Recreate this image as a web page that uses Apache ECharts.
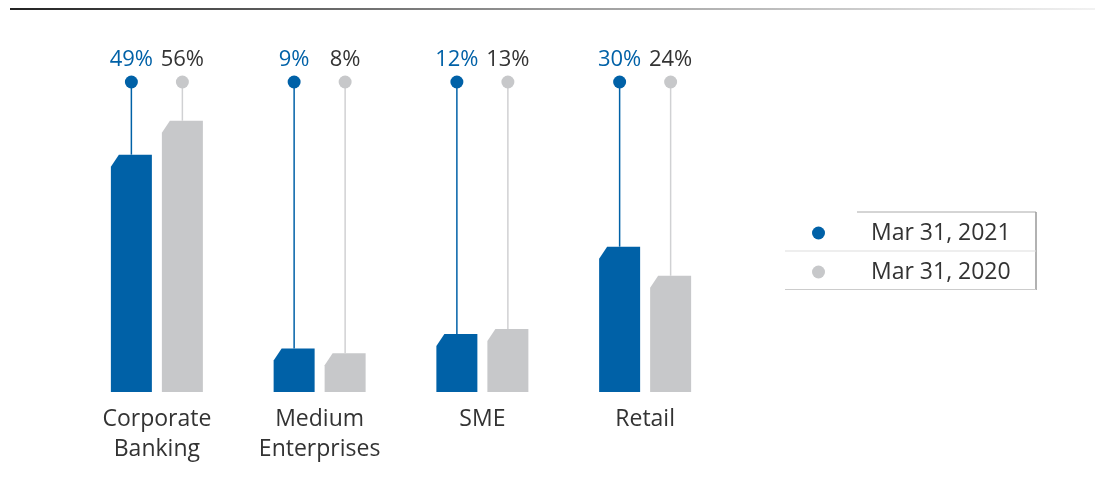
<!DOCTYPE html>
<html>
<head>
<meta charset="utf-8">
<script src="https://cdn.jsdelivr.net/npm/echarts@6/dist/echarts.min.js"></script>
<style>
  html, body { margin: 0; padding: 0; background: #fff; }
  #mychart { width: 1095px; height: 485px; }
</style>
</head>
<body>
<div id="mychart"></div>
<script>
// data
const categories = ['Corporate\nBanking', 'Medium\nEnterprises', 'SME', 'Retail'];
const share2021 = [49, 9, 12, 30];
const share2020 = [56, 8, 13, 24];
const seriesNames = ['Mar 31, 2021', 'Mar 31, 2020'];
const PIN = 64; // level of the dots above the bars

const BLUE = '#0061a7';
const GREY = '#c7c8ca';
const FONT = '"Open Sans", "Noto Sans", sans-serif';

const myChart = echarts.init(document.getElementById('mychart'));

// bar with clipped top-left corner, plus pin line, dot and label
function makeRender(offset, color, labelColor, lineColor) {
    return function (params, api) {
        const cat = api.value(0), val = api.value(1);
        const top = api.coord([cat, val]);
        const base = api.coord([cat, 0]);
        const pin = api.coord([cat, PIN]);
        const w = 41, cx = 8, cy = 12;
        const x = top[0] + offset;
        const l = x - w / 2, r = x + w / 2;
        return {
            type: 'group',
            children: [
                {
                    type: 'polygon',
                    shape: { points: [[l, base[1]], [l, top[1] + cy], [l + cx, top[1]], [r, top[1]], [r, base[1]]] },
                    style: { fill: color }
                },
                {
                    type: 'line',
                    shape: { x1: x, y1: pin[1], x2: x, y2: top[1] },
                    style: { stroke: lineColor, lineWidth: 1.5 }
                },
                {
                    type: 'circle',
                    shape: { cx: x, cy: pin[1], r: 6.5 },
                    style: { fill: color }
                },
                {
                    type: 'text',
                    style: {
                        text: val + '%', x: x, y: pin[1] - 22,
                        align: 'center', verticalAlign: 'middle',
                        fill: labelColor, font: '22px ' + FONT
                    }
                }
            ]
        };
    };
}

myChart.setOption({
    animation: false,
    grid: { left: 75.5, right: 368.5, top: 82, bottom: 93 },
    xAxis: {
        type: 'category',
        data: categories,
        axisLine: { show: false },
        axisTick: { show: false },
        axisLabel: { color: '#333', fontSize: 23, lineHeight: 30, margin: 12, fontFamily: FONT }
    },
    yAxis: { type: 'value', min: 0, max: PIN, show: false, splitLine: { show: false } },
    legend: {
        orient: 'vertical',
        left: 812, top: 221,
        padding: 0,
        itemWidth: 13, itemHeight: 13,
        itemGap: 15,
        icon: 'circle',
        data: seriesNames,
        textStyle: { color: '#333', fontSize: 23, fontFamily: FONT, padding: [2, 0, 0, 41], lineHeight: 22 }
    },
    graphic: [
        {
            type: 'line', shape: { x1: 10, y1: 9, x2: 1095, y2: 9 },
            style: {
                lineWidth: 2,
                stroke: new echarts.graphic.LinearGradient(0, 0, 1, 0, [
                    { offset: 0, color: '#222' }, { offset: 0.5, color: '#999' }, { offset: 1, color: '#f2f2f2' }
                ])
            }
        },
        { type: 'line', shape: { x1: 857, y1: 212, x2: 1036, y2: 212 }, style: { stroke: '#aaa', lineWidth: 1 } },
        { type: 'line', shape: { x1: 1036, y1: 212, x2: 1036, y2: 290 }, style: { stroke: '#999', lineWidth: 1.5 } },
        { type: 'line', shape: { x1: 785, y1: 251, x2: 1036, y2: 251 }, style: { stroke: '#ddd', lineWidth: 1 } },
        { type: 'line', shape: { x1: 785, y1: 289.5, x2: 1036, y2: 289.5 }, style: { stroke: '#ccc', lineWidth: 1 } }
    ],
    series: [
        {
            name: seriesNames[0], type: 'custom',
            itemStyle: { color: BLUE },
            renderItem: makeRender(-25.5, BLUE, BLUE, BLUE),
            data: share2021.map((v, i) => [i, v])
        },
        {
            name: seriesNames[1], type: 'custom',
            itemStyle: { color: GREY },
            renderItem: makeRender(25.5, GREY, '#333', '#d0d1d3'),
            data: share2020.map((v, i) => [i, v])
        }
    ]
});

window.addEventListener('resize', () => {
    myChart.resize();
});
</script>
</body>
</html>
